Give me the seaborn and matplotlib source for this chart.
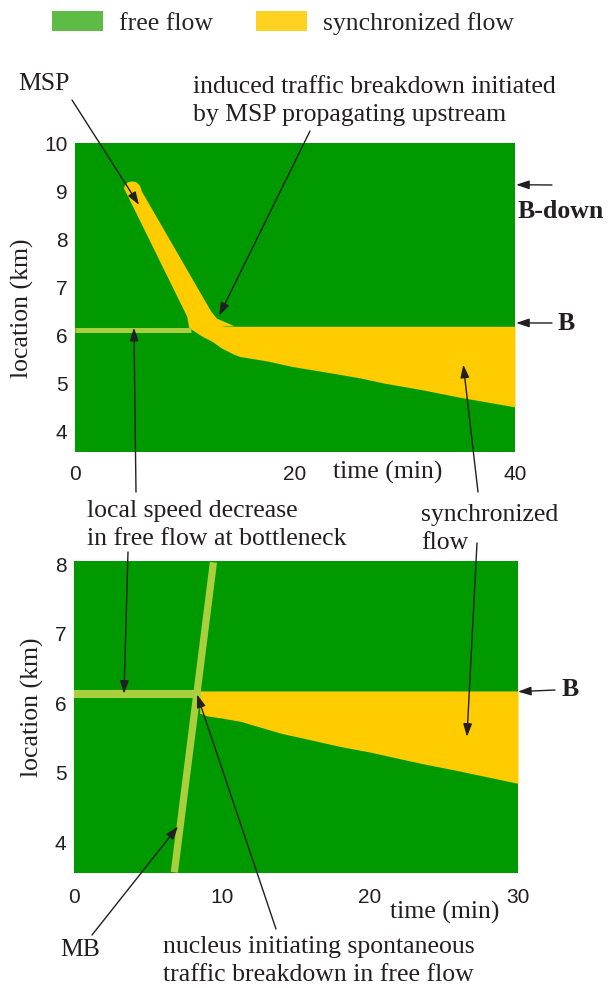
import matplotlib
matplotlib.use("Agg")
import matplotlib.pyplot as plt
from matplotlib.patches import Patch
import seaborn as sns

# ---------------- data ----------------
legend_labels = ["free flow", "synchronized flow"]

top_xticks = [0, 20, 40]
top_yticks = [4, 5, 6, 7, 8, 9, 10]
bot_xticks = [0, 10, 20, 30]
bot_yticks = [4, 5, 6, 7, 8]

# top panel: moving synchronized flow pattern (MSP) band outline
msp_time = [4.45, 10.2, 10.4, 12.0, 13.0, 13.8, 14.5, 12.9, 12.4, 6.1, 5.9, 5.6, 5.2, 4.8, 4.55]
msp_loc = [9.08, 6.40, 6.15, 6.15, 6.18, 6.20, 6.20, 6.36, 6.50, 9.00, 9.13, 9.20, 9.22, 9.20, 9.14]

# top panel: synchronized flow upstream of bottleneck B
top_sync_time = [10.5, 11.5, 12.5, 13.3, 14.4, 15.0, 17.4, 19.8, 23.5, 26.0, 28.0, 31.5, 35.0, 38.0, 40.0]
top_sync_upper = [6.20, 6.20, 6.20, 6.20, 6.20, 6.20, 6.20, 6.20, 6.20, 6.20, 6.20, 6.20, 6.20, 6.20, 6.20]
top_sync_lower = [6.15, 6.00, 5.88, 5.75, 5.62, 5.57, 5.48, 5.36, 5.22, 5.12, 5.02, 4.88, 4.72, 4.60, 4.52]

# top panel: local speed decrease in free flow at bottleneck
top_line_time = [0.0, 10.5]
top_line_loc = [6.12, 6.12]

# bottom panel
bot_line_time = [0.0, 8.6]
bot_line_loc = [6.14, 6.14]
mb_time = [6.78, 9.42]
mb_loc = [3.57, 8.03]
bot_sync_time = [8.5, 9.0, 10.0, 11.3, 14.0, 15.5, 18.0, 20.0, 23.4, 26.0, 28.0, 30.0]
bot_sync_upper = [6.18, 6.18, 6.18, 6.18, 6.18, 6.18, 6.18, 6.18, 6.18, 6.18, 6.18, 6.18]
bot_sync_lower = [5.86, 5.82, 5.79, 5.74, 5.57, 5.50, 5.38, 5.30, 5.14, 5.03, 4.94, 4.85]

# ---------------- style ----------------
GREEN = "#009900"
YELLOW = "#FFCC00"
LIGHT = "#A9D03C"
LEG_GREEN = "#5DBB46"
LEG_YELLOW = "#FFD21F"
INK = "#231F20"
FS = 18.5

sns.set_theme(style="white")
plt.rcParams["font.family"] = ["Liberation Serif", "DejaVu Serif"]

W, H = 614, 988
fig = plt.figure(figsize=(W / 100, H / 100), dpi=100)

def px_axes(l, t, r, b):
    return fig.add_axes([l / W, 1 - b / H, (r - l) / W, (b - t) / H])

ax1 = px_axes(75, 143, 515, 452)
ax2 = px_axes(74, 561, 518, 873)

for ax in (ax1, ax2):
    ax.set_facecolor(GREEN)
    for s in ax.spines.values():
        s.set_visible(False)

# top panel drawing
ax1.fill_between(top_sync_time, top_sync_lower, top_sync_upper, color=YELLOW, lw=0)
ax1.fill(msp_time, msp_loc, color=YELLOW, lw=0)
sns.lineplot(x=top_line_time, y=top_line_loc, ax=ax1, color=LIGHT, linewidth=3.6,
             solid_capstyle="butt", sort=False)
ax1.set_xlim(0, 40)
ax1.set_ylim(3.58, 10.02)

# bottom panel drawing
ax2.fill_between(bot_sync_time, bot_sync_lower, bot_sync_upper, color=YELLOW, lw=0)
sns.lineplot(x=bot_line_time, y=bot_line_loc, ax=ax2, color=LIGHT, linewidth=5.8,
             solid_capstyle="butt", sort=False)
sns.lineplot(x=mb_time, y=mb_loc, ax=ax2, color=LIGHT, linewidth=5.2,
             solid_capstyle="butt", sort=False)
ax2.set_xlim(0, 30)
ax2.set_ylim(3.56, 8.05)

for ax, xt, yt, xpad in ((ax1, top_xticks, top_yticks, 9), (ax2, bot_xticks, bot_yticks, 11)):
    ax.set_xticks(xt)
    ax.set_yticks(yt)
    ax.set_xticklabels([str(v) for v in xt])
    ax.set_yticklabels([str(v) for v in yt])
    ax.tick_params(axis="x", length=0, pad=xpad)
    ax.tick_params(axis="y", length=0, pad=5.5)
    for lab in ax.get_xticklabels() + ax.get_yticklabels():
        lab.set_fontfamily(["Liberation Sans", "DejaVu Sans"])
        lab.set_fontsize(15)
        lab.set_color(INK)
    ax.set_xlabel("")
    ax.set_ylabel("")

def ftext(x, y, s, **kw):
    kw.setdefault("fontsize", FS)
    kw.setdefault("color", INK)
    fig.text(x / W, 1 - y / H, s, **kw)

# axis labels
ftext(333, 472, "time (min)", ha="left", va="center")
ftext(390, 912, "time (min)", ha="left", va="center")
ftext(22, 308, "location (km)", ha="center", va="center", rotation=90)
ftext(32, 707, "location (km)", ha="center", va="center", rotation=90)

# legend
handles = [Patch(facecolor=LEG_GREEN, edgecolor="none"), Patch(facecolor=LEG_YELLOW, edgecolor="none")]
fig.legend(handles, legend_labels, loc="center left", bbox_to_anchor=(52 / W, 1 - 23 / H),
           ncol=2, frameon=False, fontsize=FS, handlelength=2.0, handleheight=0.78,
           handletextpad=0.62, columnspacing=1.65, borderpad=0, borderaxespad=0)

# annotation texts
ftext(18, 84, "MSP", ha="left", va="center")
ftext(193, 101, "induced traffic breakdown initiated\nby MSP propagating upstream",
      ha="left", va="center", linespacing=1.4)
ftext(518, 212, "B-down", fontweight="bold", ha="left", va="center")
ftext(558, 324, "B", fontweight="bold", ha="left", va="center")
ftext(562, 690, "B", fontweight="bold", ha="left", va="center")
ftext(87, 525, "local speed decrease\nin free flow at bottleneck", ha="left", va="center",
      linespacing=1.35)
ftext(421, 529, "synchronized\nflow", ha="left", va="center", linespacing=1.38)
ftext(60, 950, "MB", ha="left", va="center")
ftext(163, 961, "nucleus initiating spontaneous\ntraffic breakdown in free flow",
      ha="left", va="center", linespacing=1.3)

# arrows
aprops = dict(arrowstyle="-|>,head_length=0.65,head_width=0.22", color=INK, lw=1.0,
              shrinkA=0, shrinkB=0, mutation_scale=12)

def arrow(ax, tip, start):
    ax.annotate("", xy=tip, xycoords="data", xytext=(start[0], H - start[1]),
                textcoords="figure pixels", arrowprops=aprops, annotation_clip=False)

arrow(ax1, (5.82, 8.73), (72, 100))       # MSP
arrow(ax1, (13.1, 6.42), (310, 131))      # induced breakdown
arrow(ax1, (40.1, 9.15), (552, 185))      # B-down
arrow(ax1, (40.1, 6.27), (552, 323))      # B top
arrow(ax1, (5.36, 6.17), (136, 492))      # local speed decrease (top)
arrow(ax1, (35.3, 5.40), (478, 492))      # synchronized flow (top)
arrow(ax2, (3.38, 6.14), (128, 552))      # local speed decrease (bottom)
arrow(ax2, (26.55, 5.52), (477, 543))     # synchronized flow (bottom)
arrow(ax2, (30.0, 6.17), (555, 690))      # B bottom
arrow(ax2, (7.03, 4.23), (92, 935))       # MB
arrow(ax2, (8.31, 6.13), (276, 929))      # nucleus

fig.savefig("out.png", dpi=100, facecolor="white")
